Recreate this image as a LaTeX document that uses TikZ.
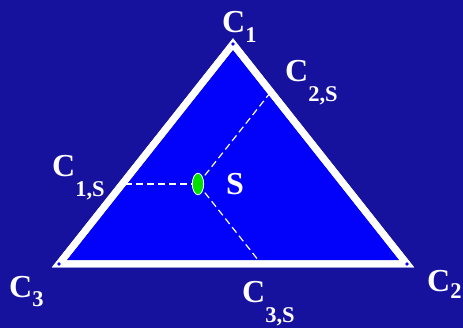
\documentclass[tikz,border=0pt]{standalone}
\usepackage{fontspec}
\setmainfont{Liberation Serif}
\definecolor{bgblue}{RGB}{22,18,158}
\definecolor{triblue}{RGB}{2,2,250}
\definecolor{sgreen}{RGB}{0,225,0}
\newcommand\mysub[2]{\raisebox{-#1pt}{\fontsize{22.5}{22.5}\selectfont #2}}
\tikzset{
  lab/.style={text=white, inner sep=0pt, anchor=base west, font=\fontsize{32}{32}\selectfont\bfseries},
  border/.style={draw=white, line width=7pt, fill=triblue, line join=miter},
  guide/.style={draw=white, line width=1.2pt, dash pattern=on 7pt off 4pt},
  vdot/.style={fill=triblue, draw=none}
}
\begin{document}
\begin{tikzpicture}[x=1pt,y=-1pt]
\useasboundingbox (0,0) rectangle (463,328);
\fill[bgblue] (0,0) rectangle (463,328);
\coordinate (c1) at (233,44);
\coordinate (c3) at (59,264);
\coordinate (c2) at (407,264);
\coordinate (p1) at (122.3,184);
\coordinate (p2) at (270.9,91.9);
\coordinate (p3) at (261.3,264);
\path[border] (c1) -- (c3) -- (c2) -- cycle;
\node[draw=none, inner sep=0pt, minimum width=11pt, minimum height=21pt] (s) at (198,184) {};
\draw[guide] (s.center) -- (p1);
\draw[guide] (s.center) -- (p2);
\draw[guide] (s.center) -- (p3);
\draw[border, fill=none] (c1) -- (c3) -- (c2) -- cycle;
\fill[triblue] (c1) circle (1.8);
\fill[triblue] (c2) circle (1.8);
\fill[triblue] (c3) circle (1.8);
\draw[fill=sgreen, draw=white, line width=0.8pt] (s.center) ellipse (5.7 and 10.8);
\node[lab] (l1) at (222,33) {C\mysub{10}{1}};
\node[lab] (l2s) at (285,82) {C\mysub{20}{2,S}};
\node[lab] (l1s) at (52,177) {C\mysub{20}{1,S}};
\node[lab] (ls) at (226,195) {S};
\node[lab] (l3) at (9,298) {C\mysub{9}{3}};
\node[lab] (l3s) at (242,303) {C\mysub{20}{3,S}};
\node[lab] (l2) at (427,292) {C\mysub{7}{2}};
\end{tikzpicture}
\end{document}
